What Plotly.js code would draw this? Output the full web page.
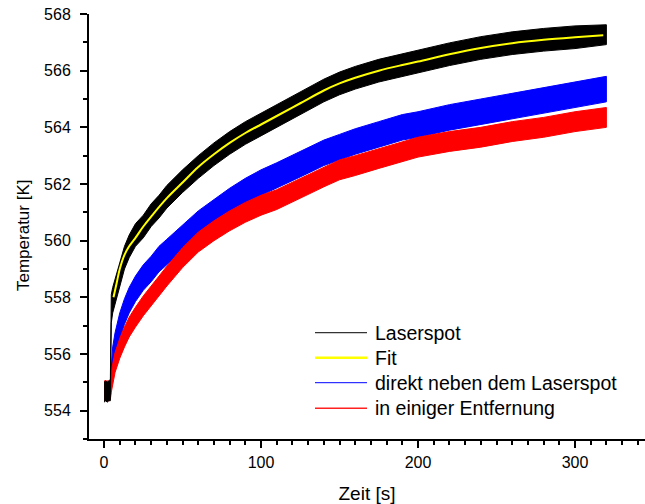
<!DOCTYPE html>
<html>
<head>
<meta charset="utf-8">
<script src="https://cdn.plot.ly/plotly-3.0.1.min.js"></script>
<style>html,body{margin:0;padding:0;background:#fff}#chart{width:645px;height:504px}</style>
</head>
<body>
<div id="chart"></div>
<script>
// time grid (s) for the measured series envelopes
const timeS = [0,1,2,3,4,4.6,5.5,7,10,13,16,20,25,30,35,40,50,60,70,80,90,100,110,125,140,150,160,175,190,200,220,240,260,280,300,320];

// Laserspot (black) centre and noise half-width (K)
const laserMid = [554.65,554.7,554.65,554.7,554.7,557.6,557.9,558.2,558.8,559.4,559.8,560.2,560.5,560.9,561.2,561.55,562.1,562.6,563.05,563.45,563.8,564.1,564.4,564.85,565.3,565.55,565.75,566.0,566.2,566.32,566.58,566.8,566.97,567.09,567.18,567.27];
const laserNoise = [0.35,0.35,0.35,0.35,0.35,0.5,0.45,0.45,0.45,0.4,0.4,0.4,0.4,0.4,0.4,0.4,0.4,0.4,0.4,0.4,0.4,0.4,0.4,0.4,0.4,0.4,0.4,0.4,0.4,0.4,0.4,0.4,0.4,0.4,0.4,0.35];

// direkt neben dem Laserspot (blue)
const besideMid = [554.7,554.7,554.7,554.7,554.75,555.3,555.8,556.3,557.0,557.5,557.9,558.3,558.7,559.0,559.35,559.6,560.1,560.6,561.0,561.4,561.75,562.05,562.3,562.7,563.1,563.3,563.5,563.75,564.0,564.1,564.35,564.55,564.75,564.95,565.15,565.35];
const besideNoise = [0.3,0.3,0.3,0.3,0.3,0.4,0.45,0.45,0.45,0.45,0.45,0.45,0.45,0.45,0.45,0.45,0.45,0.45,0.45,0.45,0.45,0.45,0.45,0.45,0.45,0.45,0.45,0.45,0.45,0.45,0.45,0.45,0.45,0.45,0.45,0.45];

// in einiger Entfernung (red)
const farMid = [554.7,554.7,554.7,554.7,554.75,555.0,555.3,555.7,556.2,556.6,556.95,557.3,557.7,558.05,558.4,558.75,559.4,559.95,560.35,560.7,561.0,561.25,561.45,561.85,562.25,562.5,562.65,562.9,563.15,563.3,563.5,563.65,563.85,564.0,564.2,564.35];
const farNoise = [0.35,0.35,0.35,0.35,0.35,0.35,0.35,0.35,0.35,0.35,0.35,0.35,0.35,0.35,0.35,0.35,0.35,0.35,0.35,0.35,0.35,0.35,0.35,0.35,0.35,0.35,0.35,0.35,0.35,0.35,0.35,0.35,0.35,0.35,0.35,0.35];

// Fit curve
const fitTime = [6,8,10,13,16,20,25,30,40,50,60,70,80,90,100,110,125,140,150,160,175,190,200,220,240,260,280,300,318];
const fitTemp = [558.0,558.5,559.0,559.5,559.8,560.1,560.5,560.85,561.5,562.05,562.6,563.05,563.45,563.8,564.1,564.4,564.85,565.3,565.55,565.75,566.0,566.2,566.32,566.58,566.8,566.97,567.09,567.18,567.25];

const legendNames = ['Laserspot','Fit','direkt neben dem Laserspot','in einiger Entfernung'];
const legendColors = ['#000000','#ffff00','#0000ff','#ff2020'];
const legendWidths = [1,2.5,1,1.5];

function band(mid, noise, color) {
  const hi = mid.map((v, i) => v + noise[i]);
  const lo = mid.map((v, i) => v - noise[i]);
  return {
    x: timeS.concat(timeS.slice().reverse()),
    y: hi.concat(lo.slice().reverse()),
    type: 'scatter', mode: 'lines', fill: 'toself',
    fillcolor: color, line: {color: color, width: 1},
    showlegend: false, hoverinfo: 'skip'
  };
}

const FONT = 'Liberation Sans, Arial, sans-serif';
const data = [
  band(besideMid, besideNoise, '#0000ff'),
  band(farMid, farNoise, '#ff0000'),
  band(laserMid, laserNoise, '#000000'),
  {x: fitTime, y: fitTemp, type: 'scatter', mode: 'lines', line: {color: '#ffff00', width: 2, shape: 'spline'}, showlegend: false}
];

// hand-placed legend (paper coordinates)
const legX0 = 0.4065, legX1 = 0.5, legTextX = 0.5108;
const legY = [0.2501, 0.1913, 0.1325, 0.0722];
const shapes = [], annotations = [];
legendNames.forEach((name, i) => {
  shapes.push({type: 'line', xref: 'paper', yref: 'paper', x0: legX0, x1: legX1, y0: legY[i], y1: legY[i],
    line: {color: legendColors[i], width: legendWidths[i]}});
  annotations.push({xref: 'paper', yref: 'paper', x: legTextX, y: legY[i], xanchor: 'left', yanchor: 'middle',
    text: name, showarrow: false, font: {family: FONT, size: 19.5, color: '#000'}});
});
// y-axis title (placed as in the original, slightly below the axis centre)
annotations.push({xref: 'paper', yref: 'paper', x: 0, xshift: -66, y: 0.48, xanchor: 'center', yanchor: 'middle',
  textangle: -90, text: 'Temperatur [K]', showarrow: false, font: {family: FONT, size: 17, color: '#000'}});

const axisCommon = {
  showline: true, linecolor: '#000', linewidth: 2, mirror: false,
  ticks: 'outside', ticklen: 7, tickwidth: 2, tickcolor: '#000',
  showgrid: false, zeroline: false,
  tickfont: {family: FONT, size: 16, color: '#000'}
};

const layout = {
  width: 645, height: 504,
  margin: {l: 89, r: 0, t: 14, b: 65},
  paper_bgcolor: '#fff', plot_bgcolor: '#fff',
  font: {family: FONT, color: '#000'},
  xaxis: Object.assign({}, axisCommon, {
    range: [-9.6, 344.6], tick0: 0, dtick: 100,
    minor: {ticks: 'outside', dtick: 10, tick0: 0, ticklen: 4, tickwidth: 2, tickcolor: '#000'},
    ticklabelstandoff: 1,
    title: {text: 'Zeit [s]', font: {family: FONT, size: 19}, standoff: 18}
  }),
  yaxis: Object.assign({}, axisCommon, {
    range: [553, 568], tick0: 554, dtick: 2,
    minor: {ticks: 'outside', dtick: 1, tick0: 554, ticklen: 4, tickwidth: 2, tickcolor: '#000'},
    ticklabelstandoff: 6
  }),
  shapes: shapes,
  annotations: annotations,
  showlegend: false
};

Plotly.newPlot('chart', data, layout, {staticPlot: true, displayModeBar: false});
</script>
</body>
</html>
